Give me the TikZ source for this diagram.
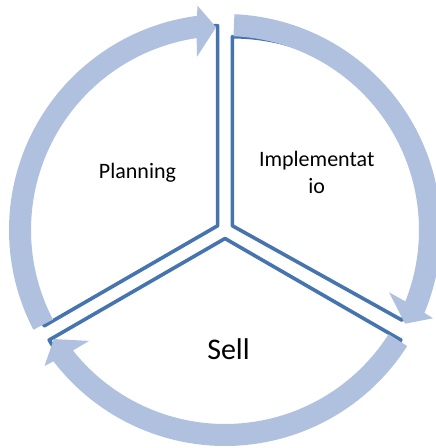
\documentclass[tikz,border=0pt]{standalone}
\usepackage{fontspec}
\setmainfont{Carlito}
\definecolor{ringcol}{HTML}{AFC1DE}
\definecolor{linecol}{HTML}{4674AE}
\tikzset{
  sector/.style={fill=white, draw=linecol, line width=3.6pt, line join=round},
  ringarrow/.style={fill=ringcol, draw=none},
  label22/.style={font=\fontsize{22}{26.4}\selectfont, inner sep=0pt, text=black},
  label30/.style={font=\fontsize{30}{36}\selectfont, inner sep=0pt, text=black}
}
\begin{document}
\begin{tikzpicture}[x=1pt,y=1pt]
\useasboundingbox (0,0) rectangle (436,448);
\coordinate (C) at (225,218);
% sectors (exploded pie)
\coordinate (P) at (217.64,222.25);
\coordinate (I) at (232.36,222.25);
\coordinate (S) at (225,209.5);
\draw[sector] (P) -- ++(90:200pt) arc[start angle=90, end angle=210, radius=200pt] -- cycle;
\draw[sector] (I) -- ++(90:189pt) arc[start angle=90, end angle=-30, x radius=196pt, y radius=189pt] -- cycle;
\draw[sector] (S) -- ++(210:203pt) arc[start angle=210, end angle=330, radius=203pt] -- cycle;
% circular arrows
\begin{scope}[shift={(C)}]
\foreach \t/\p in {207.5/92.5, 87.5/-27.5, -32.5/-147.5}{
  \fill[ringarrow] (\t:216pt) arc[start angle=\t, end angle=\p+4.94, radius=216pt]
    -- (\p+4.5:226pt) -- (\p:203pt) -- (\p+6.7:175.5pt) -- (\p+5.9:194pt)
    arc[start angle=\p+5.9, end angle=\t, radius=194pt] -- cycle;
}
\end{scope}
% labels
\node[label22, anchor=base] (planning) at (137.5,269.7) {Planning};
\node[label22, anchor=north, align=center] (impl) at (316.7,296.6) {Implementat\\io};
\node[label30, anchor=base] (sell) at (228.5,88) {Sell};
\end{tikzpicture}
\end{document}
